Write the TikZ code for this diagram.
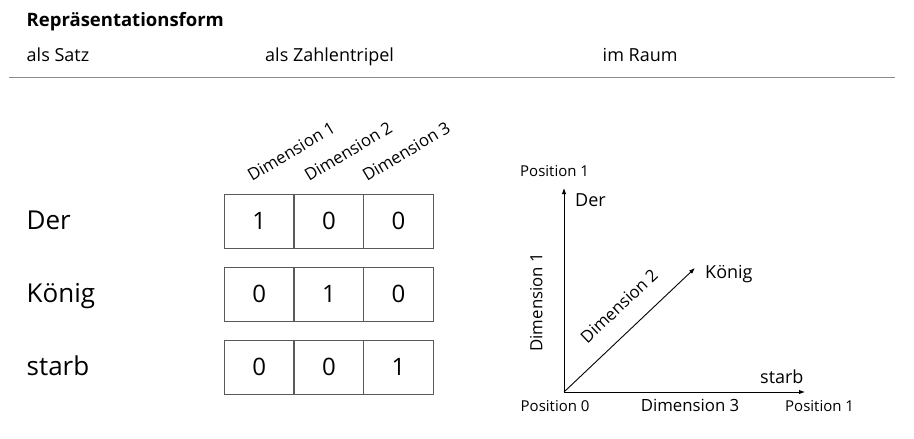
\documentclass[tikz,border=0pt]{standalone}
\usepackage{fontspec}
\setmainfont{Open Sans}
\usetikzlibrary{positioning,arrows.meta}
\definecolor{cellgray}{HTML}{595959}
\definecolor{rulegray}{HTML}{8C8C8C}
\begin{document}
\begin{tikzpicture}[
        x=1pt, y=-1pt,
        cell/.style={draw=cellgray, line width=1.2pt, minimum width=69.7pt,
                     minimum height=54pt, inner sep=0pt, outer sep=0pt,
                     font=\fontsize{24}{28}\selectfont},
        head/.style={anchor=base west, inner sep=0pt, font=\fontsize{18}{22}\selectfont},
        word/.style={anchor=base west, inner sep=0pt, font=\fontsize{26}{30}\selectfont},
        axisword/.style={anchor=base west, inner sep=0pt, font=\fontsize{18}{22}\selectfont},
        poslabel/.style={anchor=base west, inner sep=0pt, font=\fontsize{15}{18}\selectfont},
        dimlabel/.style={inner sep=0pt, font=\fontsize{16.8}{20}\selectfont},
        axis/.style={line width=0.9pt, -{Latex[length=6pt, width=4.5pt]}},
    ]
        \useasboundingbox (0,0) rectangle (914,439);

        \node[head, font=\bfseries\fontsize{18.5}{22}\selectfont] (title) at (26.5,27) {Repräsentationsform};
        \node[head] (satz) at (26.5,61.5) {als Satz};
        \node[head] (tripel) at (265,61.5) {als Zahlentripel};
        \node[head] (raum) at (602.5,61.5) {im Raum};
        \draw[rulegray, line width=1.4pt] (9,77.5) -- (895,77.5);

        \node[dimlabel, anchor=base west, rotate=31] (d1) at (252,182) {Dimension 1};
        \node[dimlabel, anchor=base west, rotate=31] (d2) at (309,182) {Dimension 2};
        \node[dimlabel, anchor=base west, rotate=31] (d3) at (367,182) {Dimension 3};

        \node[word] (der) at (26.5,229.5) {Der};
        \node[word] (koenig) at (26.5,302.5) {König};
        \node[word] (starb) at (26.5,375.5) {starb};

        \node[cell] (a1) at (259.2,221.3) {1};
        \node[cell, right=0pt of a1] (a2) {0};
        \node[cell, right=0pt of a2] (a3) {0};
        \node[cell, below=19pt of a1] (b1) {0};
        \node[cell, right=0pt of b1] (b2) {1};
        \node[cell, right=0pt of b2] (b3) {0};
        \node[cell, below=19pt of b1] (c1) {0};
        \node[cell, right=0pt of c1] (c2) {0};
        \node[cell, right=0pt of c2] (c3) {1};

        \coordinate (O) at (564,392);
        \coordinate (top) at (564,188);
        \coordinate (right) at (805,392);
        \coordinate (diag) at (695,268);

        \draw[axis] (O) -- node[dimlabel, sloped, above=21pt, pos=0.44] {Dimension 1} (top);
        \draw[axis] (O) -- node[dimlabel, sloped, above=18pt, pos=0.55] {Dimension 2} (diag);
        \draw[axis] (O) -- node[dimlabel, sloped, below=7pt, pos=0.523] {Dimension 3} (right);

        \node[poslabel] (ptop) at (520,176.7) {Position 1};
        \node[poslabel] (pzero) at (520.5,411.5) {Position 0};
        \node[poslabel] (pright) at (785,411.5) {Position 1};
        \node[axisword] (sder) at (575,206.7) {Der};
        \node[axisword] (skoenig) at (705,278.3) {König};
        \node[axisword] (sstarb) at (760,383.3) {starb};
    \end{tikzpicture}
\end{document}
